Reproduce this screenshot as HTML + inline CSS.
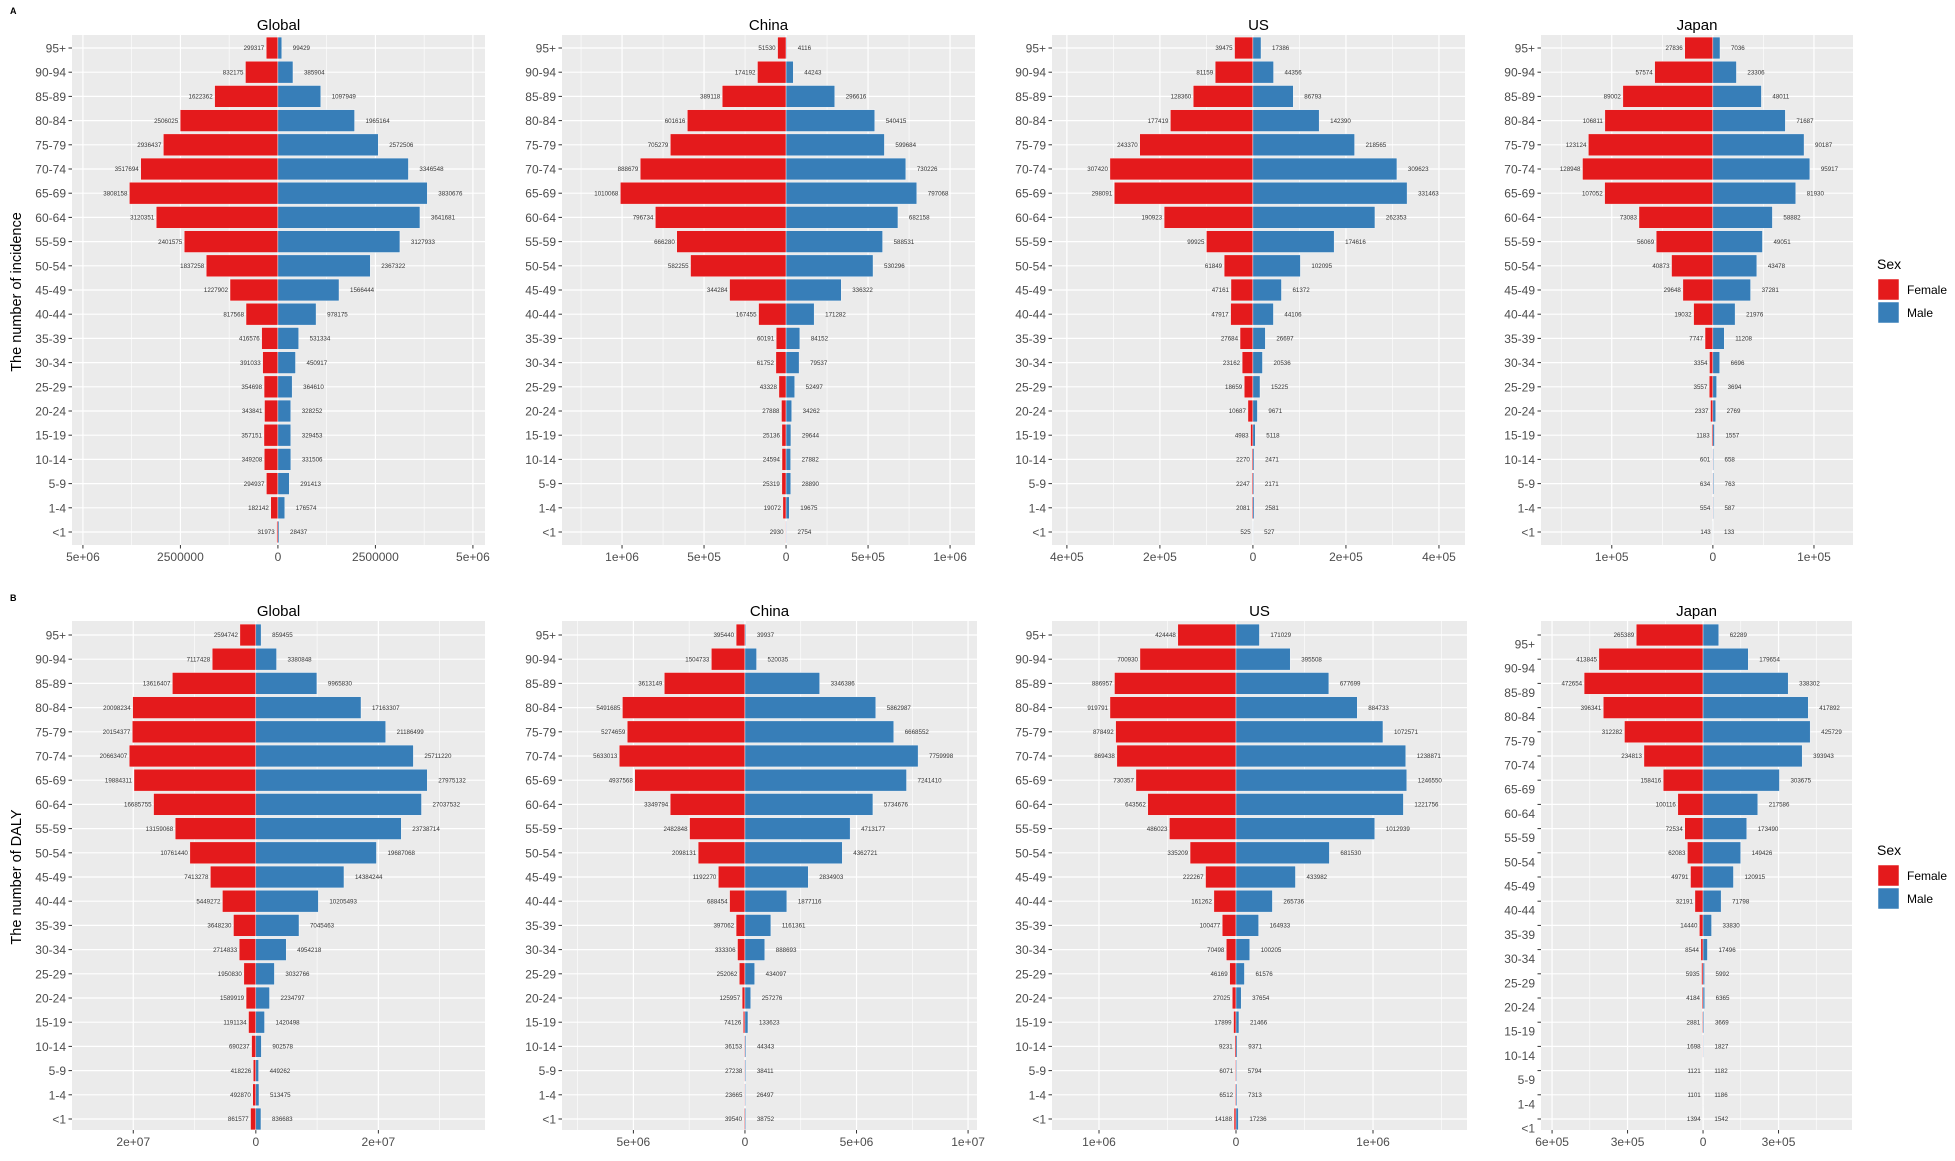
<!DOCTYPE html>
<html><head><meta charset="utf-8"><title>Incidence and DALY pyramids</title>
<style>
body{margin:0;background:#fff;}
svg{display:block;font-family:"Liberation Sans",Arial,sans-serif;}
</style></head>
<body>
<svg id="chart" width="1955" height="1161" viewBox="0 0 1955 1161" xmlns="http://www.w3.org/2000/svg">
<text x="10" y="14" font-size="9" font-weight="bold" fill="#000">A</text>
<text x="10" y="601" font-size="9" font-weight="bold" fill="#000">B</text>
<text transform="translate(21,292) rotate(-90)" text-anchor="middle" font-size="14.5" fill="#000">The number of incidence</text>
<text transform="translate(21,877) rotate(-90)" text-anchor="middle" font-size="14.5" fill="#000">The number of DALY</text>
</svg>
<script>
const ages = ["95+","90-94","85-89","80-84","75-79","70-74","65-69","60-64","55-59","50-54","45-49","40-44","35-39","30-34","25-29","20-24","15-19","10-14","5-9","1-4","<1"];

const incGlobalF = [299317,832175,1622362,2506025,2936437,3517694,3808158,3120351,2401575,1837258,1227902,817568,416576,391033,354698,343841,357151,349208,294937,182142,31973];
const incGlobalM = [99429,385904,1097949,1965164,2572506,3346548,3830676,3641681,3127933,2367322,1566444,978175,531334,450917,364610,328252,329453,331506,291413,176574,28437];
const incChinaF = [51530,174192,389118,601616,705279,888679,1010068,796734,666280,582255,344284,167455,60191,61752,43328,27888,25136,24594,25319,19072,2930];
const incChinaM = [4116,44243,296616,540415,599684,730226,797068,682158,588531,530296,336322,171282,84152,79537,52497,34262,29644,27882,28890,19675,2754];
const incUSF = [39475,81159,128360,177419,243370,307420,298091,190923,99925,61849,47161,47917,27684,23162,18659,10687,4983,2270,2247,2081,525];
const incUSM = [17386,44356,86793,142390,218565,309623,331463,262353,174616,102095,61372,44106,26697,20536,15225,9671,5118,2471,2171,2581,527];
const incJapanF = [27836,57574,89002,106811,123124,128948,107052,73083,56069,40873,29648,19032,7747,3354,3557,2337,1183,601,634,554,143];
const incJapanM = [7036,23306,48011,71687,90187,95917,81930,58882,49051,43478,37281,21976,11208,6696,3694,2769,1557,658,763,587,133];

const dalyGlobalF = [2594742,7117428,13616407,20098234,20154377,20663407,19884311,16685755,13159068,10761440,7413278,5449272,3648230,2714833,1950830,1589919,1191134,690237,418226,492870,861577];
const dalyGlobalM = [859455,3380848,9965830,17163307,21186499,25711220,27975132,27037532,23738714,19687068,14384244,10205493,7045463,4954218,3032766,2234797,1420498,902578,449262,513475,836683];
const dalyChinaF = [395440,1504733,3613149,5491685,5274659,5633013,4937568,3349794,2482848,2098131,1192270,688454,397062,333306,252062,125957,74126,36153,27238,23665,39540];
const dalyChinaM = [39937,520035,3346386,5862987,6668552,7759998,7241410,5734676,4713177,4362721,2834903,1877116,1161361,888693,434097,257276,133623,44343,38411,26497,38752];
const dalyUSF = [424448,700930,886957,919791,878492,869438,730357,643562,486023,335209,222267,161262,100477,70498,46169,27025,17899,9231,6071,6512,14188];
const dalyUSM = [171029,395508,677699,884733,1072571,1238871,1246550,1221756,1012939,681530,433982,265736,164933,100205,61576,37654,21466,9371,5794,7313,17236];
const dalyJapanF = [265389,413845,472654,396341,312282,234813,158416,100116,72534,62083,49791,32191,14440,8544,5935,4184,2881,1698,1121,1101,1394];
const dalyJapanM = [62289,179654,338302,417892,425729,393943,303675,217586,173490,149426,120915,71798,33830,17496,5992,6365,3669,1827,1182,1186,1542];

const ticksIncGlobal = [-5e6,-2.5e6,0,2.5e6,5e6];
const tickLabelsIncGlobal = ["5e+06","2500000","0","2500000","5e+06"];
const ticksIncChina = [-1e6,-5e5,0,5e5,1e6];
const tickLabelsIncChina = ["1e+06","5e+05","0","5e+05","1e+06"];
const ticksIncUS = [-4e5,-2e5,0,2e5,4e5];
const tickLabelsIncUS = ["4e+05","2e+05","0","2e+05","4e+05"];
const ticksIncJapan = [-1e5,0,1e5];
const tickLabelsIncJapan = ["1e+05","0","1e+05"];
const ticksDalyGlobal = [-2e7,0,2e7];
const tickLabelsDalyGlobal = ["2e+07","0","2e+07"];
const ticksDalyChina = [-5e6,0,5e6,1e7];
const tickLabelsDalyChina = ["5e+06","0","5e+06","1e+07"];
const ticksDalyUS = [-1e6,0,1e6];
const tickLabelsDalyUS = ["1e+06","0","1e+06"];
const ticksDalyJapan = [-6e5,-3e5,0,3e5,6e5];
const tickLabelsDalyJapan = ["6e+05","3e+05","0","3e+05","6e+05"];

const domIncGlobal = [-5.28e6,5.31e6];
const domIncChina = [-1.366e6,1.152e6];
const domIncUS = [-4.32e5,4.56e5];
const domIncJapan = [-1.70e5,1.386e5];
const domDalyGlobal = [-3.0e7,3.74e7];
const domDalyChina = [-8.2e6,1.04e7];
const domDalyUS = [-1.343e6,1.686e6];
const domDalyJapan = [-6.44e5,5.92e5];

const svg = document.getElementById('chart');
const NS = 'http://www.w3.org/2000/svg';
function mk(tag, attrs, parent){
  const e = document.createElementNS(NS, tag);
  for (const k in attrs) e.setAttribute(k, attrs[k]);
  (parent||svg).appendChild(e);
  return e;
}

const A = {T:35,B:545,y0:48,step:24.2};
const Bp = {T:621,B:1130,y0:635,step:24.2};
const panels = [
 {key:'incidence-global',title:'Global',F:incGlobalF,M:incGlobalM,dom:domIncGlobal,ticks:ticksIncGlobal,labs:tickLabelsIncGlobal,L:72,R:485,...A,labShift:0},
 {key:'incidence-china',title:'China',F:incChinaF,M:incChinaM,dom:domIncChina,ticks:ticksIncChina,labs:tickLabelsIncChina,L:562,R:975,...A,labShift:0},
 {key:'incidence-us',title:'US',F:incUSF,M:incUSM,dom:domIncUS,ticks:ticksIncUS,labs:tickLabelsIncUS,L:1052,R:1465,...A,labShift:0},
 {key:'incidence-japan',title:'Japan',F:incJapanF,M:incJapanM,dom:domIncJapan,ticks:ticksIncJapan,labs:tickLabelsIncJapan,L:1541,R:1853,...A,labShift:0},
 {key:'daly-global',title:'Global',F:dalyGlobalF,M:dalyGlobalM,dom:domDalyGlobal,ticks:ticksDalyGlobal,labs:tickLabelsDalyGlobal,L:72,R:485,...Bp,labShift:0},
 {key:'daly-china',title:'China',F:dalyChinaF,M:dalyChinaM,dom:domDalyChina,ticks:ticksDalyChina,labs:tickLabelsDalyChina,L:562,R:977,...Bp,labShift:0},
 {key:'daly-us',title:'US',F:dalyUSF,M:dalyUSM,dom:domDalyUS,ticks:ticksDalyUS,labs:tickLabelsDalyUS,L:1052,R:1467,...Bp,labShift:0},
 {key:'daly-japan',title:'Japan',F:dalyJapanF,M:dalyJapanM,dom:domDalyJapan,ticks:ticksDalyJapan,labs:tickLabelsDalyJapan,L:1541,R:1852,...Bp,labShift:9}
];

panels.forEach(p => {
  const g = mk('g', {});
  
  
  const x = v => p.L + (v - p.dom[0]) / (p.dom[1] - p.dom[0]) * (p.R - p.L);
  const y = i => p.y0 + i * p.step;
  const bh = p.step * 0.9;

  const bg = mk('rect', {x:p.L, y:p.T, width:p.R-p.L, height:p.B-p.T, fill:'#EBEBEB'}, g);
  
  

  const st = p.ticks[1] - p.ticks[0];
  for (let k = Math.floor(p.dom[0]/st) - 1; k <= Math.ceil(p.dom[1]/st) + 1; k++) {
    const v = k*st + st/2;
    if (v > p.dom[0] && v < p.dom[1]) {
      const gl = mk('line', {x1:x(v), x2:x(v), y1:p.T, y2:p.B, stroke:'#fff', 'stroke-width':0.6}, g);
      
      
    }
  }
  p.ticks.forEach((t, i) => {
    if (t < p.dom[0] || t > p.dom[1]) return;
    const gl = mk('line', {x1:x(t), x2:x(t), y1:p.T, y2:p.B, stroke:'#fff', 'stroke-width':1.2}, g);
    
    
    const tm = mk('line', {x1:x(t), x2:x(t), y1:p.B, y2:p.B+3.5, stroke:'#333', 'stroke-width':1}, g);
    
    
    const tl = mk('text', {x:x(t), y:p.B+16, 'text-anchor':'middle', 'font-size':12, fill:'#4D4D4D'}, g);
    tl.textContent = p.labs[i];
    
    
  });
  ages.forEach((a, i) => {
    const gl = mk('line', {x1:p.L, x2:p.R, y1:y(i), y2:y(i), stroke:'#fff', 'stroke-width':1.2}, g);
    
    
    const tm = mk('line', {x1:p.L-3.5, x2:p.L, y1:y(i), y2:y(i), stroke:'#333', 'stroke-width':1}, g);
    
    
    const tl = mk('text', {x:p.L-6, y:y(i)+4.5+p.labShift, 'text-anchor':'end', 'font-size':12, fill:'#4D4D4D'}, g);
    tl.textContent = a;
    
    
  });
  const z = x(0);
  ages.forEach((a, i) => {
    const xf = x(-p.F[i]);
    const bf = mk('rect', {x:xf, y:y(i)-bh/2, width:z-xf, height:bh, fill:'#E41A1C', stroke:'#fff', 'stroke-width':0.4}, g);
    
    
    const xm = x(p.M[i]);
    const bm = mk('rect', {x:z, y:y(i)-bh/2, width:xm-z, height:bh, fill:'#377EB8', stroke:'#fff', 'stroke-width':0.4}, g);
    
    
    const lf = mk('text', {x:xf-2, y:y(i)+2.2, 'text-anchor':'end', 'font-size':6.2, fill:'#333'}, g);
    lf.textContent = String(p.F[i]);
    
    
    const lm = mk('text', {x:xm+11, y:y(i)+2.2, 'text-anchor':'start', 'font-size':6.2, fill:'#333'}, g);
    lm.textContent = String(p.M[i]);
    
    
  });
  const tt = mk('text', {x:(p.L+p.R)/2, y:p.T-5, 'text-anchor':'middle', 'font-size':15, fill:'#000'}, g);
  tt.textContent = p.title;
  
  
});

[[264, 'incidence'], [850, 'daly']].forEach(([ly, k]) => {
  const g = mk('g', {});
  
  
  const t = mk('text', {x:1877, y:ly+5, 'font-size':14, fill:'#000'}, g);
  t.textContent = 'Sex';
  
  
  const r1 = mk('rect', {x:1878, y:ly+15, width:21, height:21, fill:'#E41A1C', stroke:'#fff', 'stroke-width':0.5}, g);
  
  
  const t1 = mk('text', {x:1907, y:ly+30, 'font-size':12, fill:'#000'}, g);
  t1.textContent = 'Female';
  
  
  const r2 = mk('rect', {x:1878, y:ly+38, width:21, height:21, fill:'#377EB8', stroke:'#fff', 'stroke-width':0.5}, g);
  
  
  const t2 = mk('text', {x:1907, y:ly+53, 'font-size':12, fill:'#000'}, g);
  t2.textContent = 'Male';
  
  
});
</script>
</body></html>
